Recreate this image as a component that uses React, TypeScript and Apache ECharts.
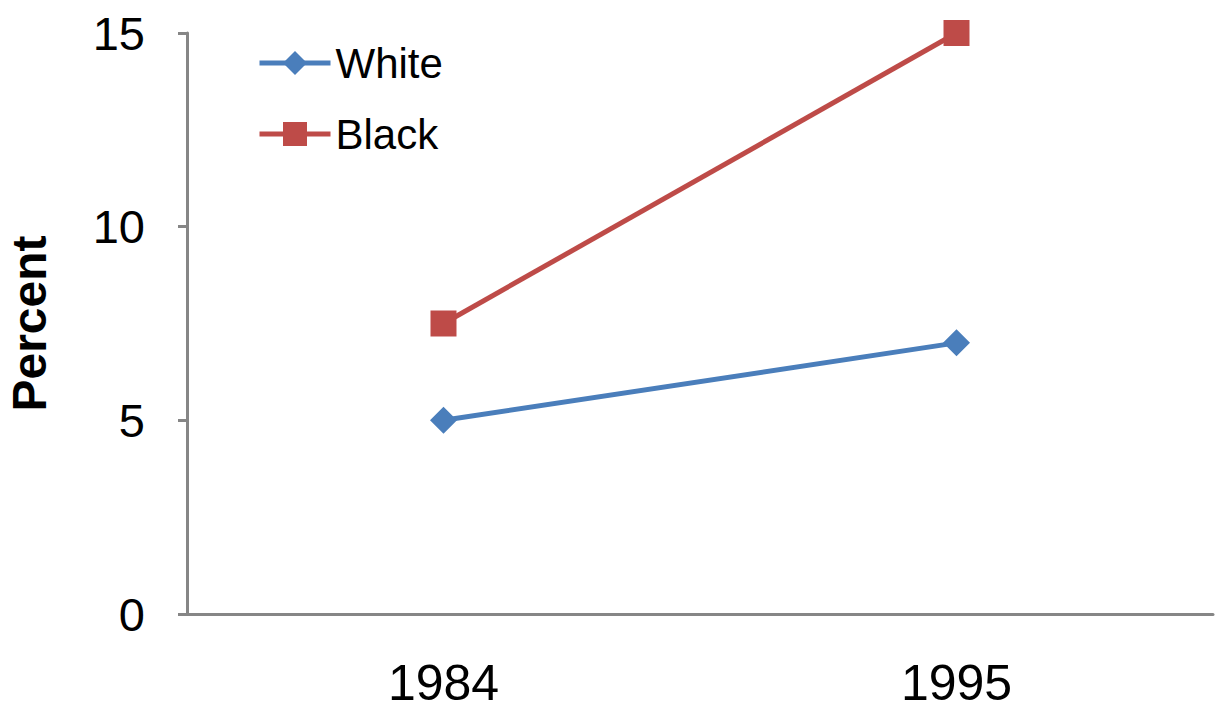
import React, { useEffect, useRef } from "react";
import * as echarts from "echarts";

const years = ["1984", "1995"];
const whiteValues = [5, 7];
const blackValues = [7.5, 15];
const yTicks = [0, 5, 10, 15];

const BLUE = "#4A7EBB";
const RED = "#BE4B48";
const AXIS = "#868686";
const FONT = "Liberation Sans, Arial, sans-serif";

export default function App() {
  const ref = useRef<HTMLDivElement>(null);
  useEffect(() => {
    if (!ref.current) return;
    const chart = echarts.init(ref.current, undefined, { renderer: "svg" });
    chart.setOption({
      animation: false,
      backgroundColor: "#ffffff",
      grid: {
        left: 187,
        right: 3,
        top: 33,
        bottom: 97,
        containLabel: false,
        outerBoundsMode: "none",
      },
      legend: {
        orient: "vertical",
        left: 252,
        top: 37,
        itemWidth: 71,
        itemHeight: 30,
        itemGap: 29,
        lineStyle: { width: 5 },
        textStyle: { fontFamily: FONT, fontSize: 42, color: "#000" },
        data: ["White", "Black"],
      },
      xAxis: {
        type: "category",
        data: years,
        boundaryGap: true,
        axisLine: { lineStyle: { color: AXIS, width: 3 } },
        axisTick: { alignWithLabel: true, length: 9, lineStyle: { color: AXIS, width: 3 } },
        axisLabel: { fontFamily: FONT, fontSize: 50, color: "#000", margin: 44 },
        splitLine: { show: false },
      },
      yAxis: {
        type: "value",
        min: yTicks[0],
        max: yTicks[yTicks.length - 1],
        interval: 5,
        name: "Percent",
        nameLocation: "middle",
        nameRotate: 90,
        nameGap: 134,
        nameTextStyle: { fontFamily: FONT, fontSize: 48, fontWeight: "bold", color: "#000" },
        axisLine: { show: true, lineStyle: { color: AXIS, width: 3 } },
        axisTick: { show: true, length: 9, lineStyle: { color: AXIS, width: 3 } },
        axisLabel: { fontFamily: FONT, fontSize: 47, color: "#000", margin: 42 },
        splitLine: { show: false },
      },
      series: [
        {
          name: "White",
          type: "line",
          data: whiteValues,
          symbol: "diamond",
          symbolSize: 27,
          lineStyle: { color: BLUE, width: 5 },
          itemStyle: { color: BLUE },
        },
        {
          name: "Black",
          type: "line",
          data: blackValues,
          symbol: "rect",
          symbolSize: 26,
          lineStyle: { color: RED, width: 5 },
          itemStyle: { color: RED },
        },
      ],
    });
    return () => chart.dispose();
  }, []);
  return (
    <div
      ref={ref}
      style={{ position: "absolute", left: 0, top: 0, width: 1216, height: 711 }}
    />
  );
}
